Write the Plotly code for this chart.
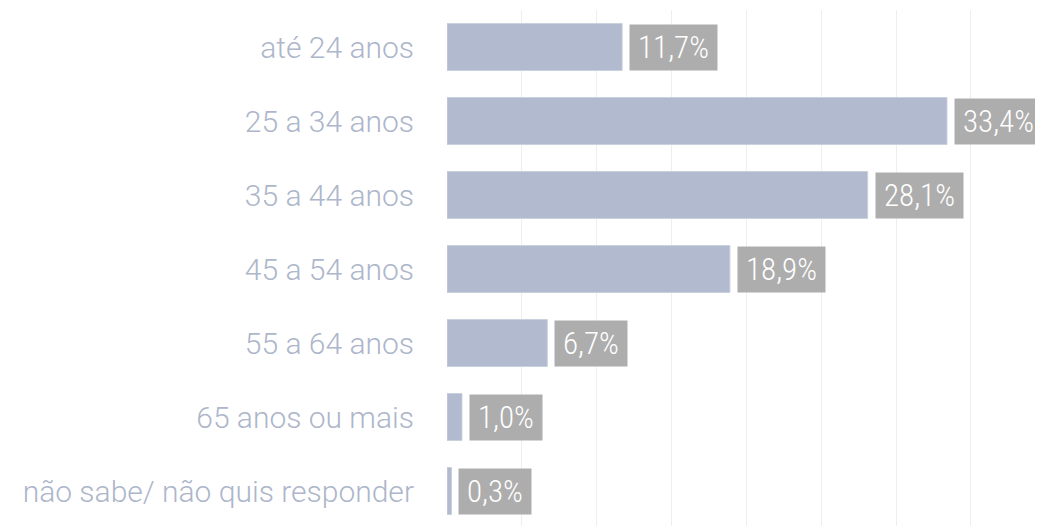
import plotly.graph_objects as go

categories = ["até 24 anos", "25 a 34 anos", "35 a 44 anos", "45 a 54 anos",
              "55 a 64 anos", "65 anos ou mais", "não sabe/ não quis responder"]
values = [11.7, 33.4, 28.1, 18.9, 6.7, 1.0, 0.3]
labels = ["11,7%", "33,4%", "28,1%", "18,9%", "6,7%", "1,0%", "0,3%"]

FONT = "Roboto, Liberation Sans, sans-serif"

fig = go.Figure(go.Bar(
    x=values, y=categories, orientation="h",
    marker=dict(color="#b1bace", line=dict(color="#c9d0de", width=1)),
    width=0.635,
))

for c, v, t in zip(categories, values, labels):
    fig.add_annotation(x=v, y=c, text=t, showarrow=False, xanchor="left",
                       xshift=7, bgcolor="#adadad", height=29, borderpad=8,
                       font=dict(family="Roboto Condensed, Roboto, sans-serif",
                                 size=31, color="white", weight=300))

fig.update_layout(
    width=1043, height=526,
    margin=dict(l=439, r=0, t=2, b=6),
    plot_bgcolor="white", paper_bgcolor="white",
    showlegend=False,
    xaxis=dict(range=[0, 40.35], dtick=5, showticklabels=False,
               gridcolor="#eeeeee", gridwidth=1, zeroline=False),
    yaxis=dict(autorange="reversed", showgrid=False, ticklabelstandoff=32,
               tickfont=dict(family=FONT, size=30, color="#adb6ca", weight=300)),
    font=dict(family=FONT),
)

fig.write_html("out.html")
